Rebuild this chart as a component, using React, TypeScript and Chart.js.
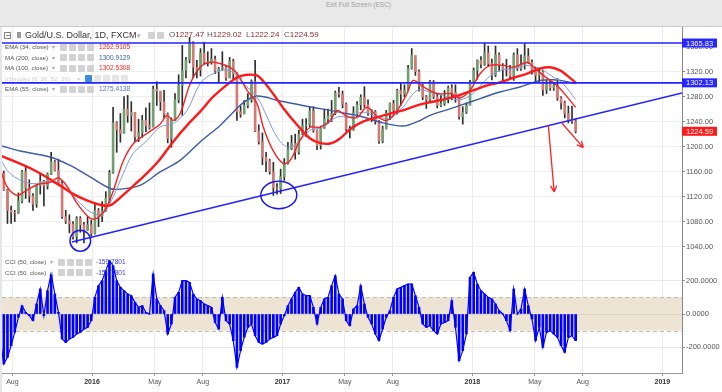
import React, { useEffect, useRef } from 'react';
import { Chart, registerables } from 'chart.js';
Chart.register(...registerables);

const FONT = "'Liberation Sans', Arial, sans-serif";

// ---- weekly price data (week 0 = week of 2015-07-06) ----
const firstOpen = 1168;
const highs = [
  1170, 1161, 1132, 1105, 1098, 1126, 1162, 1170, 1147, 1125, 1140, 1156, 1146, 1158, 1191, 1178, 1180, 1146, 1098, 1091, 1080, 1088, 1088, 1079, 1088, 1082,
  1110, 1101, 1112, 1128, 1162, 1263, 1240, 1253, 1280, 1282, 1272, 1250, 1244, 1250, 1262, 1270, 1297, 1304, 1284, 1290, 1254, 1246, 1285, 1315, 1362, 1343, 1375, 1368, 1338, 1357, 1367, 1352, 1357, 1345, 1327, 1352, 1330, 1343, 1340, 1318, 1265, 1274, 1285, 1307, 1338, 1235, 1222, 1191, 1180, 1175, 1141, 1164,
  1181, 1207, 1218, 1220, 1226, 1244, 1245, 1264, 1264, 1227, 1233, 1260, 1260, 1274, 1289, 1295, 1289, 1270, 1233, 1264, 1272, 1283, 1296, 1275, 1259, 1258, 1242, 1233, 1258, 1270, 1274, 1292, 1301, 1299, 1330, 1357, 1338, 1323, 1300, 1282, 1306, 1306, 1284, 1283, 1290, 1297, 1299, 1299, 1279, 1264, 1270, 1306,
  1326, 1339, 1344, 1366, 1361, 1340, 1361, 1350, 1333, 1340, 1330, 1350, 1357, 1347, 1365, 1357, 1339, 1327, 1326, 1322, 1306, 1307, 1303, 1309, 1280, 1273, 1265, 1265, 1244,
];
const lows = [
  1147, 1130, 1077, 1077, 1080, 1093, 1110, 1117, 1111, 1098, 1103, 1124, 1105, 1132, 1155, 1161, 1139, 1085, 1077, 1062, 1052, 1046, 1063, 1046, 1066, 1057,
  1060, 1072, 1080, 1096, 1110, 1157, 1191, 1207, 1225, 1239, 1225, 1208, 1208, 1215, 1224, 1228, 1234, 1266, 1258, 1246, 1206, 1199, 1242, 1270, 1250, 1310, 1334, 1310, 1310, 1313, 1333, 1329, 1332, 1317, 1302, 1323, 1306, 1310, 1308, 1242, 1247, 1255, 1262, 1271, 1224, 1204, 1171, 1160, 1156, 1122, 1124, 1125,
  1146, 1172, 1195, 1180, 1188, 1219, 1216, 1232, 1223, 1195, 1196, 1229, 1237, 1240, 1251, 1279, 1262, 1225, 1214, 1226, 1247, 1259, 1263, 1250, 1240, 1236, 1205, 1206, 1229, 1243, 1255, 1252, 1266, 1280, 1290, 1324, 1314, 1289, 1275, 1261, 1272, 1277, 1262, 1264, 1266, 1270, 1275, 1271, 1244, 1236, 1253, 1269,
  1302, 1308, 1326, 1330, 1328, 1307, 1312, 1321, 1303, 1313, 1310, 1306, 1322, 1322, 1324, 1333, 1316, 1302, 1303, 1282, 1285, 1290, 1290, 1274, 1260, 1246, 1238, 1237, 1222,
];
const closes = [
  1157, 1131, 1098, 1095, 1094, 1113, 1160, 1134, 1121, 1108, 1138, 1145, 1137, 1156, 1176, 1162, 1141, 1088, 1081, 1076, 1056, 1085, 1075, 1066, 1075, 1061,
  1098, 1089, 1097, 1118, 1158, 1238, 1227, 1221, 1260, 1250, 1255, 1216, 1222, 1242, 1234, 1231, 1292, 1289, 1272, 1252, 1213, 1243, 1275, 1298, 1322, 1339, 1366, 1327, 1323, 1350, 1335, 1336, 1340, 1321, 1325, 1327, 1310, 1337, 1316, 1256, 1252, 1266, 1275, 1304, 1225, 1208, 1183, 1177, 1160, 1134, 1133, 1152,
  1173, 1196, 1205, 1191, 1220, 1234, 1235, 1257, 1226, 1202, 1229, 1244, 1249, 1253, 1286, 1284, 1268, 1228, 1227, 1254, 1267, 1279, 1267, 1254, 1256, 1241, 1209, 1228, 1254, 1269, 1258, 1290, 1284, 1291, 1325, 1346, 1320, 1297, 1280, 1275, 1304, 1280, 1266, 1269, 1276, 1294, 1287, 1280, 1248, 1255, 1266, 1303,
  1322, 1338, 1332, 1350, 1333, 1315, 1347, 1330, 1323, 1323, 1313, 1347, 1325, 1332, 1345, 1335, 1323, 1314, 1320, 1291, 1303, 1294, 1298, 1278, 1270, 1253, 1242, 1241, 1224.59,
];

// ---- CCI (50) weekly readings ----
const cciValues = [
  -150, -300, -260, -190, -110, -20, 50, 10, -10, -40, 60, 150, -10, 140, 240, 120, 10, -150, -170, -150, -140, -120, -110, -90, -80, -40,
  100, 170, 200, 260, 320, 290, 200, 160, 140, 120, 110, 70, 40, 50, 10, 0, 240, 90, 50, 20, -120, -60, 100, 130, 200, 200,
  190, 120, 90, 80, 60, 50, 40, -50, -90, 100, -40, -60, -160, -320, -220, -140, -80, -60, -130, -170, -180, -170, -150, -140, -130, -60,
  -10, 50, 90, 130, 160, 120, 110, 110, 40, -60, 40, 90, 100, 170, 230, 120, 90, -40, -70, 30, 50, 170, 60, -20, -60, -120,
  -160, -90, -20, 20, 100, 150, 160, 170, 180, 180, 110, 40, -60, -80, -70, -100, -120, -60, -50, -40, 80, -80, -280, -220, -120, 220,
  250, 180, 140, 120, 100, 90, 60, 20, 0, -40, -100, 150, 0, 30, 150, 50, -30, -160, -80, -200, -110, -100, -120, -140, -190, -230, -140, -130, -159.78,
];

// ---- moving averages [week, value] ----
const ema34 = [[0, 1165], [1.8, 1137], [4.6, 1122], [6.4, 1127], [10.1, 1139], [13.7, 1143], [16, 1150], [18.3, 1137], [21, 1110], [23.8, 1090], [25.6, 1084], [27.4, 1089], [29.3, 1104], [31.1, 1130], [33.8, 1177], [36.6, 1205], [40.3, 1221], [43.9, 1236], [45.8, 1250], [47.5, 1242], [49.4, 1253], [52.2, 1301], [54.9, 1327], [57.6, 1335], [60.4, 1333], [63.1, 1327], [65.1, 1317], [67.8, 1290], [70.5, 1269], [72.2, 1232], [74.9, 1194], [77.7, 1173], [79.6, 1178], [82.3, 1210], [85.1, 1231], [87.8, 1231], [90.6, 1242], [92.5, 1258], [95.3, 1248], [98, 1247], [100.7, 1263], [103.5, 1248], [106.2, 1242], [109, 1258], [111.7, 1285], [113.4, 1306], [116.1, 1296], [120, 1285], [123.5, 1285], [126.3, 1278], [129, 1290], [131.8, 1317], [134.5, 1330], [138.1, 1330], [140.8, 1327], [144.7, 1335], [146.3, 1328], [149.1, 1314], [151.8, 1303], [153.7, 1293], [155.6, 1280], [158, 1263]];
const ema55 = [[0, 1181], [2.7, 1157], [8.2, 1141], [13.7, 1143.5], [18.4, 1130], [22, 1109], [25.5, 1093], [28.3, 1093], [31, 1119.5], [33.8, 1157], [36.5, 1189], [40.4, 1210], [43.9, 1231.5], [47.5, 1237], [51.3, 1258], [54.9, 1301], [58.5, 1317], [63.1, 1322], [66.7, 1301], [70.5, 1279.5], [73.3, 1247.5], [76, 1215.5], [78.8, 1199.5], [81.5, 1205], [85.1, 1226], [88.7, 1231.5], [92.5, 1247.5], [96.1, 1247.5], [99.6, 1255.5], [103.5, 1247.5], [107.1, 1245], [110.6, 1263.5], [114.5, 1290], [118, 1287.5], [122.7, 1279.5], [126.3, 1275], [129.8, 1285], [133.7, 1309], [137.2, 1322], [140.8, 1325], [144.7, 1330], [148.2, 1325], [151.8, 1311.5], [154.5, 1301], [158, 1275.4]];
const ma100 = [[0, 1186], [9.1, 1163], [16.4, 1138], [20.1, 1124], [23.8, 1114], [27.4, 1107], [30.2, 1106], [32.9, 1118], [36.5, 1137], [40.4, 1158], [43.9, 1180], [47.5, 1208], [51.3, 1234], [54.9, 1256], [58.5, 1280], [63.1, 1303], [65.1, 1311], [67.8, 1315], [70.5, 1314], [72.2, 1305], [74.9, 1285], [77.7, 1262], [81.5, 1235], [85.1, 1213], [87.8, 1206], [90.6, 1205], [93.3, 1213], [96.1, 1228], [99.6, 1240], [103.5, 1247], [107.1, 1253], [110.6, 1258], [114.5, 1266], [118, 1271], [122.7, 1277], [126.3, 1283], [129.8, 1290], [133.7, 1298], [137.2, 1303], [140.8, 1310], [144.7, 1317], [148.2, 1325], [151, 1327], [153.7, 1322], [155.6, 1314], [158, 1302.5]];
const ma200 = [[0, 1202], [5.5, 1193], [13.7, 1183.5], [19.2, 1170], [24.7, 1151.5], [30.2, 1133], [32.9, 1132], [38.4, 1138], [43.9, 1159.5], [49.4, 1178], [54.9, 1207.5], [60.4, 1234], [63.1, 1250], [66.7, 1270], [70.5, 1281], [76.9, 1273], [85.1, 1263.5], [90.6, 1258], [94.2, 1254], [99.6, 1247.5], [105.1, 1238], [110.6, 1233], [114.5, 1240], [118, 1250], [122.7, 1259], [126.3, 1266], [131.8, 1277], [137.2, 1287.5], [142.7, 1295.5], [145.5, 1301], [148.2, 1306], [151.8, 1307], [153.7, 1306], [158, 1301]];

// ---- axes ----
const tickDates = ['2015-08-01', '2016-01-01', '2016-05-01', '2016-08-01', '2017-01-01', '2017-05-01', '2017-08-01', '2018-01-01', '2018-05-01', '2018-08-01', '2019-01-01'];
const tickLabels = ['Aug', '2016', 'May', 'Aug', '2017', 'May', 'Aug', '2018', 'May', 'Aug', '2019'];
const priceTicks = [1040, 1080, 1120, 1160, 1200, 1240, 1280, 1320, 1360];
const cciTicks = [-200, 0, 200];

// ---- drawings (data coordinates: week, price) ----
const levelLines = [1365.83, 1302.13];
const trendLine = [[19.7, 1047.5], [187.2, 1286]];
const ellipses = [
  { cx: 22.0, cy: 1049.5, rx: 2.83, ry: 16.8 },
  { cx: 76.5, cy: 1122.7, rx: 4.94, ry: 21.9 },
];
const arrows = [
  [[150.5, 1234.2], [152.1, 1127.5]],
  [[154.2, 1237.9], [160.1, 1198.4]],
];
const priceMarkers = [
  { v: 1365.83, c: '#2626ff' },
  { v: 1302.13, c: '#2626ff' },
  { v: 1224.59, c: '#ff1a1a' },
];

const X_MIN = 0.5;
const X_MAX = 187.2;
const W0 = Date.UTC(2015, 6, 8, 12);
const toWeek = (s: string) => {
  const [y, m, d] = s.split('-').map(Number);
  return (Date.UTC(y, m - 1, d) - W0) / (7 * 864e5);
};
const tickWeeks = tickDates.map(toWeek);

const pts = (arr: number[][]) => arr.map(([x, y]) => ({ x, y }));

function xAxisBase(showLabels: boolean) {
  return {
    type: 'linear' as const,
    min: X_MIN,
    max: X_MAX,
    offset: false,
    afterBuildTicks: (s: any) => { s.ticks = tickWeeks.map((v) => ({ value: v })); },
    grid: { color: '#ececec', offset: false, drawTicks: showLabels, tickLength: 3, tickColor: '#999' },
    border: { display: true, color: '#9a9a9a' },
    ticks: {
      display: showLabels,
      autoSkip: false,
      maxRotation: 0,
      padding: 2,
      color: (ctx: any) => (/^\d/.test(tickLabels[ctx.index] || '') ? '#333' : '#555'),
      font: (ctx: any) => ({ family: FONT, size: 7, weight: /^\d/.test(tickLabels[ctx.index] || '') ? 'bold' : 'normal' }),
      callback: (_v: any, i: number) => tickLabels[i],
    },
  };
}

const mainPlugin = {
  id: 'drawings',
  afterDatasetsDraw(chart: any) {
    const { ctx, chartArea: a, scales } = chart;
    const x = scales.x, y = scales.y;
    ctx.save();
    ctx.beginPath();
    ctx.rect(a.left, a.top, a.right - a.left, a.bottom - a.top);
    ctx.clip();
    ctx.strokeStyle = '#1a1ae8';
    ctx.lineWidth = 1.5;
    ellipses.forEach((e) => {
      const cx = x.getPixelForValue(e.cx), cy = y.getPixelForValue(e.cy);
      const rx = Math.abs(x.getPixelForValue(e.cx + e.rx) - cx);
      const ry = Math.abs(y.getPixelForValue(e.cy + e.ry) - cy);
      ctx.beginPath();
      ctx.ellipse(cx, cy, rx, ry, 0, 0, Math.PI * 2);
      ctx.stroke();
    });
    ctx.strokeStyle = '#ff2020';
    ctx.lineWidth = 1.3;
    arrows.forEach(([p0, p1]) => {
      const x0 = x.getPixelForValue(p0[0]), y0 = y.getPixelForValue(p0[1]);
      const x1 = x.getPixelForValue(p1[0]), y1 = y.getPixelForValue(p1[1]);
      const ang = Math.atan2(y1 - y0, x1 - x0);
      ctx.beginPath();
      ctx.moveTo(x0, y0);
      ctx.lineTo(x1, y1);
      [-0.45, 0.45].forEach((d) => {
        ctx.moveTo(x1, y1);
        ctx.lineTo(x1 - 7 * Math.cos(ang + d), y1 - 7 * Math.sin(ang + d));
      });
      ctx.stroke();
    });
    ctx.restore();
  },
  afterDraw(chart: any) {
    const { ctx, chartArea: a, scales } = chart;
    ctx.save();
    ctx.font = `7.5px ${FONT}`;
    ctx.textBaseline = 'middle';
    priceMarkers.forEach((m) => {
      const py = scales.y.getPixelForValue(m.v);
      ctx.fillStyle = m.c;
      ctx.fillRect(a.right, py - 4.5, 35, 9);
      ctx.fillStyle = '#fff';
      ctx.fillText(m.v.toFixed(2), a.right + 4, py + 0.5);
    });
    ctx.restore();
  },
};

const bandPlugin = {
  id: 'band',
  beforeDatasetsDraw(chart: any) {
    const { ctx, chartArea: a, scales } = chart;
    const y1 = scales.y.getPixelForValue(100), y2 = scales.y.getPixelForValue(-100);
    const y0 = scales.y.getPixelForValue(0);
    ctx.save();
    ctx.fillStyle = '#ede4d3';
    ctx.fillRect(a.left, y1, a.right - a.left, y2 - y1);
    ctx.strokeStyle = '#ddd3bf';
    ctx.lineWidth = 1;
    ctx.beginPath();
    ctx.moveTo(a.left, Math.round(y0) + 0.5);
    ctx.lineTo(a.right, Math.round(y0) + 0.5);
    ctx.stroke();
    ctx.strokeStyle = '#c2bcb0';
    ctx.setLineDash([4, 3]);
    [y1, y2].forEach((yy) => {
      ctx.beginPath();
      ctx.moveTo(a.left, Math.round(yy) + 0.5);
      ctx.lineTo(a.right, Math.round(yy) + 0.5);
      ctx.stroke();
    });
    ctx.restore();
  },
};

function lineDs(data: number[][], color: string, width: number, order: number, tension = 0.35) {
  return {
    type: 'line' as const,
    data: pts(data),
    borderColor: color,
    borderWidth: width,
    pointRadius: 0,
    tension,
    fill: false,
    order,
  };
}

export default function App() {
  const mainRef = useRef<HTMLCanvasElement>(null);
  const cciRef = useRef<HTMLCanvasElement>(null);

  useEffect(() => {
    document.body.style.margin = '0';
    const opens = closes.map((_c, i) => (i === 0 ? firstOpen : closes[i - 1]));
    const wicks = highs.map((h, i) => ({ x: i, y: [lows[i], h] }));
    const bodies = closes.map((c, i) => ({ x: i, y: [opens[i], c] }));
    const bodyColors = closes.map((c, i) => (c >= opens[i] ? '#73a073' : '#d47a76'));

    const main = new Chart(mainRef.current!, {
      type: 'bar',
      data: {
        datasets: [
          { type: 'bar', data: wicks as any, backgroundColor: '#2e2e2e', barThickness: 1, grouped: false, order: 20 },
          { type: 'bar', data: bodies as any, backgroundColor: bodyColors, barThickness: 2, grouped: false, order: 19 },
          lineDs(ma200, '#3b5ba6', 1.4, 8),
          lineDs(ema55, '#7f9bd8', 1, 7),
          lineDs(ma100, '#ff1a1a', 2.4, 6),
          lineDs(ema34, '#f22424', 1.4, 5),
          ...levelLines.map((v) => lineDs([[-5, v], [200, v]], '#2222ff', 1.6, 2, 0)),
          lineDs(trendLine, '#2222ff', 1.5, 1, 0),
        ] as any,
      },
      options: {
        animation: false,
        responsive: false,
        devicePixelRatio: 1,
        layout: { padding: { left: 2, right: 0, top: 0, bottom: 0 } },
        plugins: { legend: { display: false }, tooltip: { enabled: false } },
        scales: {
          x: {
            ...xAxisBase(false),
            afterFit: (s: any) => { s.height = 0; s.paddingLeft = 0; s.paddingRight = 0; },
          } as any,
          y: {
            position: 'right',
            min: 1025,
            max: 1391.5,
            afterBuildTicks: (s: any) => { s.ticks = priceTicks.map((v) => ({ value: v })); },
            afterFit: (s: any) => { s.width = 40; s.paddingTop = 0; s.paddingBottom = 0; },
            grid: { color: '#efefef', tickLength: 3, tickColor: '#888' },
            border: { display: true, color: '#888' },
            ticks: { padding: 1, color: '#555', font: { family: FONT, size: 7.5 }, callback: (v: any) => Number(v).toFixed(2) },
          } as any,
        },
      },
      plugins: [mainPlugin],
    });

    const cciPts = cciValues.map((v, i) => ({ x: i, y: v }));
    const cci = new Chart(cciRef.current!, {
      type: 'bar',
      data: {
        datasets: [
          { type: 'bar', data: cciPts as any, backgroundColor: '#0000ff', barThickness: 2, grouped: false, order: 3 },
          { type: 'line', data: cciPts as any, borderColor: '#0000ff', borderWidth: 1.2, pointRadius: 0, tension: 0, order: 2 },
        ] as any,
      },
      options: {
        animation: false,
        responsive: false,
        devicePixelRatio: 1,
        layout: { padding: { left: 2, right: 0, top: 0, bottom: 0 } },
        plugins: { legend: { display: false }, tooltip: { enabled: false } },
        scales: {
          x: {
            ...xAxisBase(true),
            afterFit: (s: any) => { s.height = 19; s.paddingLeft = 0; s.paddingRight = 0; },
          } as any,
          y: {
            position: 'right',
            min: -354,
            max: 348,
            afterBuildTicks: (s: any) => { s.ticks = cciTicks.map((v) => ({ value: v })); },
            afterFit: (s: any) => { s.width = 40; s.paddingTop = 0; s.paddingBottom = 0; },
            grid: { color: '#e8e8e8', tickLength: 3, tickColor: '#888' },
            border: { display: true, color: '#888' },
            ticks: { padding: 1, color: '#555', font: { family: FONT, size: 7.5 }, callback: (v: any) => Number(v).toFixed(4) },
          } as any,
        },
      },
      plugins: [bandPlugin],
    });

    return () => { main.destroy(); cci.destroy(); };
  }, []);

  const T = (x: number, y: number, text: string, size: number, color: string, extra: React.CSSProperties = {}) => (
    <span style={{ position: 'absolute', left: x, top: y, transform: 'translateY(-50%)', fontSize: size, color, lineHeight: 1, whiteSpace: 'nowrap', ...extra }}>{text}</span>
  );
  const Box = (x: number, y: number, bg = '#d2d2d2', key?: any) => (
    <span key={key} style={{ position: 'absolute', left: x, top: y - 3.5, width: 7, height: 7, background: bg, borderRadius: 1 }} />
  );

  const indRows = [
    { y: 47, label: 'EMA (34, close)', value: '1262.9105', vc: '#f22424' },
    { y: 57.6, label: 'MA (200, close)', value: '1300.9129', vc: '#3b5ba6' },
    { y: 68.2, label: 'MA (100, close)', value: '1302.5308', vc: '#f22424' },
    { y: 89.2, label: 'EMA (55, close)', value: '1275.4138', vc: '#4f6fc4' },
  ];
  const ohlc = [
    { x: 169, k: 'O', v: '1227.47' },
    { x: 207, k: 'H', v: '1229.02' },
    { x: 246, k: 'L', v: '1222.24' },
    { x: 284, k: 'C', v: '1224.59' },
  ];
  const cciRows = [262.3, 272.7];

  return (
    <div style={{ position: 'relative', width: 722, height: 392, background: '#fff', overflow: 'hidden', fontFamily: FONT }}>
      <div style={{ position: 'absolute', left: 0, top: 0, width: 722, height: 26, background: '#e9e9e9', borderBottom: '1px solid #c9c9c9' }} />
      {T(326, 5, 'Exit Full Screen (ESC)', 6.5, '#a0a0a0')}
      <div style={{ position: 'absolute', left: 0, top: 27, width: 2, height: 365, background: '#e6e6e6' }} />
      <canvas ref={mainRef} width={722} height={229} style={{ position: 'absolute', left: 0, top: 27 }} />
      <canvas ref={cciRef} width={722} height={136} style={{ position: 'absolute', left: 0, top: 256 }} />

      {/* title row */}
      <span style={{ position: 'absolute', left: 4, top: 32, width: 5, height: 5, border: '1px solid #888' }} />
      <span style={{ position: 'absolute', left: 5.5, top: 35, width: 4, height: 1, background: '#888' }} />
      <span style={{ position: 'absolute', left: 17, top: 32, width: 4, height: 6, background: '#999' }} />
      {T(25, 35, 'Gold/U.S. Dollar, 1D, FXCM', 9, '#333')}
      {T(137, 35, '▾', 7, '#aaa')}
      {Box(148, 35)}
      {Box(157, 35)}
      {ohlc.map((o) => (
        <span key={o.k} style={{ position: 'absolute', left: o.x, top: 35, transform: 'translateY(-50%)', fontSize: 8, lineHeight: 1, whiteSpace: 'nowrap' }}>
          <span style={{ color: '#555' }}>{o.k}</span>
          <span style={{ color: '#8b2a2a' }}>{o.v}</span>
        </span>
      ))}

      {/* indicator rows */}
      {indRows.map((r) => (
        <React.Fragment key={r.label}>
          {T(5, r.y, r.label, 6.2, '#555')}
          {T(52, r.y, '▾', 6, '#aaa')}
          {[60, 69, 78, 87].map((bx) => Box(bx, r.y, '#d2d2d2', bx))}
          {T(99, r.y, r.value, 6.6, r.vc)}
        </React.Fragment>
      ))}
      {T(5, 78.6, 'Ichimoku (9, 26, 52, 26)', 6.2, '#cdcdcd')}
      {T(77, 78.6, '▾', 6, '#d0d0d0')}
      {Box(85, 78.6, '#3b8de0')}
      {[94, 103, 112, 121].map((bx) => Box(bx, 78.6, '#e6e6e6', bx))}

      {/* CCI rows */}
      {cciRows.map((yy, i) => (
        <React.Fragment key={i}>
          {T(5, yy, 'CCI (50, close)', 6.2, '#555')}
          {T(50, yy, '▾', 6, '#aaa')}
          {[58, 67, 76, 85].map((bx) => Box(bx, yy, '#d2d2d2', bx))}
          {T(96, yy, '-159.7801', 6.6, '#3a3ae0')}
        </React.Fragment>
      ))}
    </div>
  );
}
